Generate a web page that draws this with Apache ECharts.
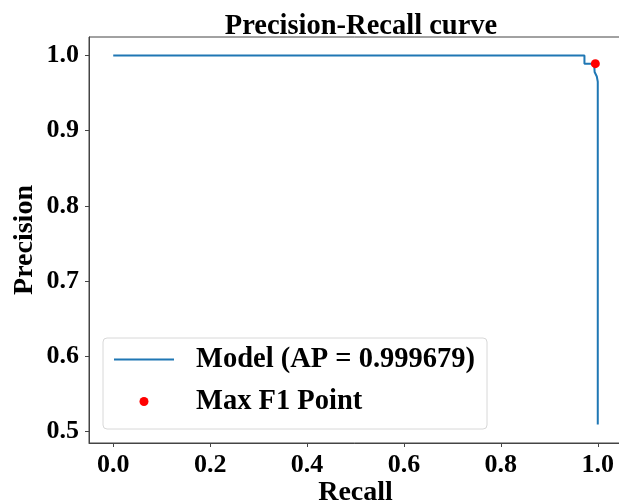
<!DOCTYPE html>
<html>
<head>
<meta charset="utf-8">
<script src="https://cdn.jsdelivr.net/npm/echarts@6/dist/echarts.min.js"></script>
<style>
  html, body { margin: 0; padding: 0; background: #fff; }
  #chart { width: 619px; height: 503px; }
</style>
</head>
<body>
<div id="chart"></div>
<script>
// PR curve points
const recall = [0, 0.9725, 0.9725, 0.9925, 0.9935, 0.998, 1.0, 1.0]
const precision = [1.0, 1.0, 0.989, 0.989, 0.978, 0.972, 0.965, 0.509]
// max F1 point
const maxF1 = [0.995, 0.989]
const xTicks = [0, 0.2, 0.4, 0.6, 0.8, 1.0]
const yTicks = [0.5, 0.6, 0.7, 0.8, 0.9, 1.0]
const lineName = 'Model (AP = 0.999679)'
const pointName = 'Max F1 Point'

const font = '"Liberation Serif", "Times New Roman", serif'
const chart = echarts.init(document.getElementById('chart'))

const axisCommon = {
  axisLine: { show: true, onZero: false, lineStyle: { color: '#444', width: 1 } },
  splitLine: { show: false },
  nameLocation: 'middle',
  nameMoveOverlap: false,
  nameTextStyle: { fontFamily: font, fontWeight: 'bold', fontSize: 28, color: '#000' },
}

chart.setOption({
  animation: false,
  backgroundColor: '#fff',
  title: {
    text: 'Precision-Recall curve',
    left: 356,
    textAlign: 'center',
    top: 7,
    textStyle: { fontFamily: font, fontWeight: 'bold', fontSize: 28.5, color: '#000' },
  },
  grid: {
    left: 89,
    top: 37,
    width: 533,
    height: 406,
    outerBoundsMode: 'none',
    containLabel: false,
    show: true,
    borderColor: '#444',
    borderWidth: 1,
    backgroundColor: 'transparent',
  },
  xAxis: {
    ...axisCommon,
    type: 'value',
    min: -0.05,
    max: 1.05,
    name: 'Recall',
    nameGap: 36,
    axisTick: { show: true, length: 4, lineStyle: { color: '#444' }, customValues: xTicks },
    axisLabel: {
      customValues: xTicks,
      formatter: (v) => v.toFixed(1),
      margin: 9,
      fontFamily: font,
      fontWeight: 'bold',
      fontSize: 26,
      color: '#000',
    },
  },
  yAxis: {
    ...axisCommon,
    type: 'value',
    min: 0.4845,
    max: 1.0245,
    name: 'Precision',
    nameGap: 50,
    axisTick: { show: true, length: 4, lineStyle: { color: '#444' }, customValues: yTicks },
    axisLabel: {
      customValues: yTicks,
      formatter: (v) => v.toFixed(1),
      margin: 10,
      fontFamily: font,
      fontWeight: 'bold',
      fontSize: 26,
      color: '#000',
    },
  },
  legend: {
    orient: 'vertical',
    left: 103,
    top: 338,
    padding: [7, 12, 13, 10],
    itemGap: 13,
    itemWidth: 60,
    itemHeight: 9,
    borderColor: '#d8d8d8',
    borderWidth: 1,
    borderRadius: 4,
    backgroundColor: 'rgba(255,255,255,0.8)',
    textStyle: {
      fontFamily: font,
      fontWeight: 'bold',
      fontSize: 28.5,
      color: '#000',
      padding: [0, 0, 0, 17],
    },
    data: [
      { name: lineName, itemStyle: { opacity: 0, borderWidth: 0 } },
      { name: pointName, icon: 'circle', itemStyle: { color: '#ff0000', opacity: 1 } },
    ],
  },
  series: [
    {
      name: lineName,
      type: 'line',
      data: recall.map((r, i) => [r, precision[i]]),
      symbol: 'none',
      lineStyle: { color: '#1f77b4', width: 2 },
      itemStyle: { color: '#1f77b4' },
    },
    {
      name: pointName,
      type: 'scatter',
      data: [maxF1],
      symbolSize: 9,
      itemStyle: { color: '#ff0000', opacity: 1 },
      z: 3,
    },
  ],
})
</script>
</body>
</html>
